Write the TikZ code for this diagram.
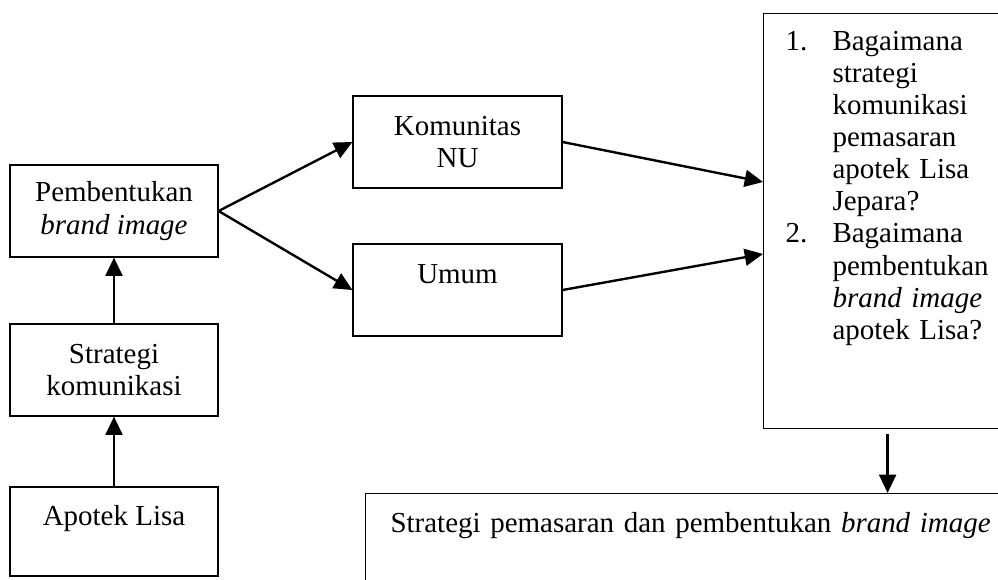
\documentclass[tikz,border=0pt]{standalone}
\usepackage{fontspec}
\setmainfont{Liberation Serif}
\usetikzlibrary{positioning, arrows.meta}

\begin{document}
\begin{tikzpicture}[x=0.025cm, y=-0.025cm,
  font=\fontsize{20.6}{22.8}\selectfont,
  kotak/.style={draw, line width=0.8pt, inner sep=0pt},
  panah/.style={-{Triangle[length=13pt, width=12pt]}, line width=1.7pt}]

% Frame of the picture
\useasboundingbox (0,0) rectangle (998,579);
\clip (0,0) rectangle (998,579);

% Left column
\node[kotak, minimum width=5.2cm, minimum height=2.3cm, align=center] (pembentukan) at (114,211) {Pembentukan\\\textit{brand image}};
\node[kotak, minimum width=5.2cm, minimum height=2.3cm, align=center] (strategi) at (114,370) {Strategi\\komunikasi};
\node[kotak, minimum width=5.2cm, minimum height=2.225cm, align=center] (apotek) at (114,531.5) {Apotek Lisa\\~};

% Middle column
\node[kotak, minimum width=5.225cm, minimum height=2.3cm, align=center] (komunitas) at (457.5,142) {Komunitas\\NU};
\node[kotak, minimum width=5.225cm, minimum height=2.3cm, align=center] (umum) at (457.5,290) {Umum\\~};

% Questions and result
\node[kotak, anchor=north west, text width=5.1cm, inner xsep=0.55cm, text height=0.925cm, text depth=9.45cm] (rumusan) at (763,13) {%
  \begin{tabular}[t]{@{}p{1.175cm}@{}l@{}}
  1. & Bagaimana\\
     & strategi\\
     & komunikasi\\
     & pemasaran\\
     & apotek Lisa\\
     & Jepara?\\
  2. & Bagaimana\\
     & pembentukan\\
     & \textit{brand image}\\
     & apotek Lisa?
  \end{tabular}};
\node[kotak, anchor=north west, text width=15.6cm, align=left, inner xsep=0.625cm, text height=0.975cm, text depth=2cm] (hasil) at (365,493) {Strategi pemasaran dan pembentukan \textit{brand image}};

% Arrows
\coordinate (masuk atas) at (763,182);
\coordinate (masuk bawah) at (763,254);
\draw[panah] (apotek) -- (strategi);
\draw[panah] (strategi) -- (pembentukan);
\draw[panah] (pembentukan.east) -- (komunitas.west);
\draw[panah] (pembentukan.east) -- (umum.west);
\draw[panah] (komunitas.east) -- (masuk atas);
\draw[panah] (umum.east) -- (masuk bawah);
\draw[panah, shorten <=0.125cm] (rumusan.south) -- (rumusan.south |- hasil.north);

\end{tikzpicture}
\end{document}
